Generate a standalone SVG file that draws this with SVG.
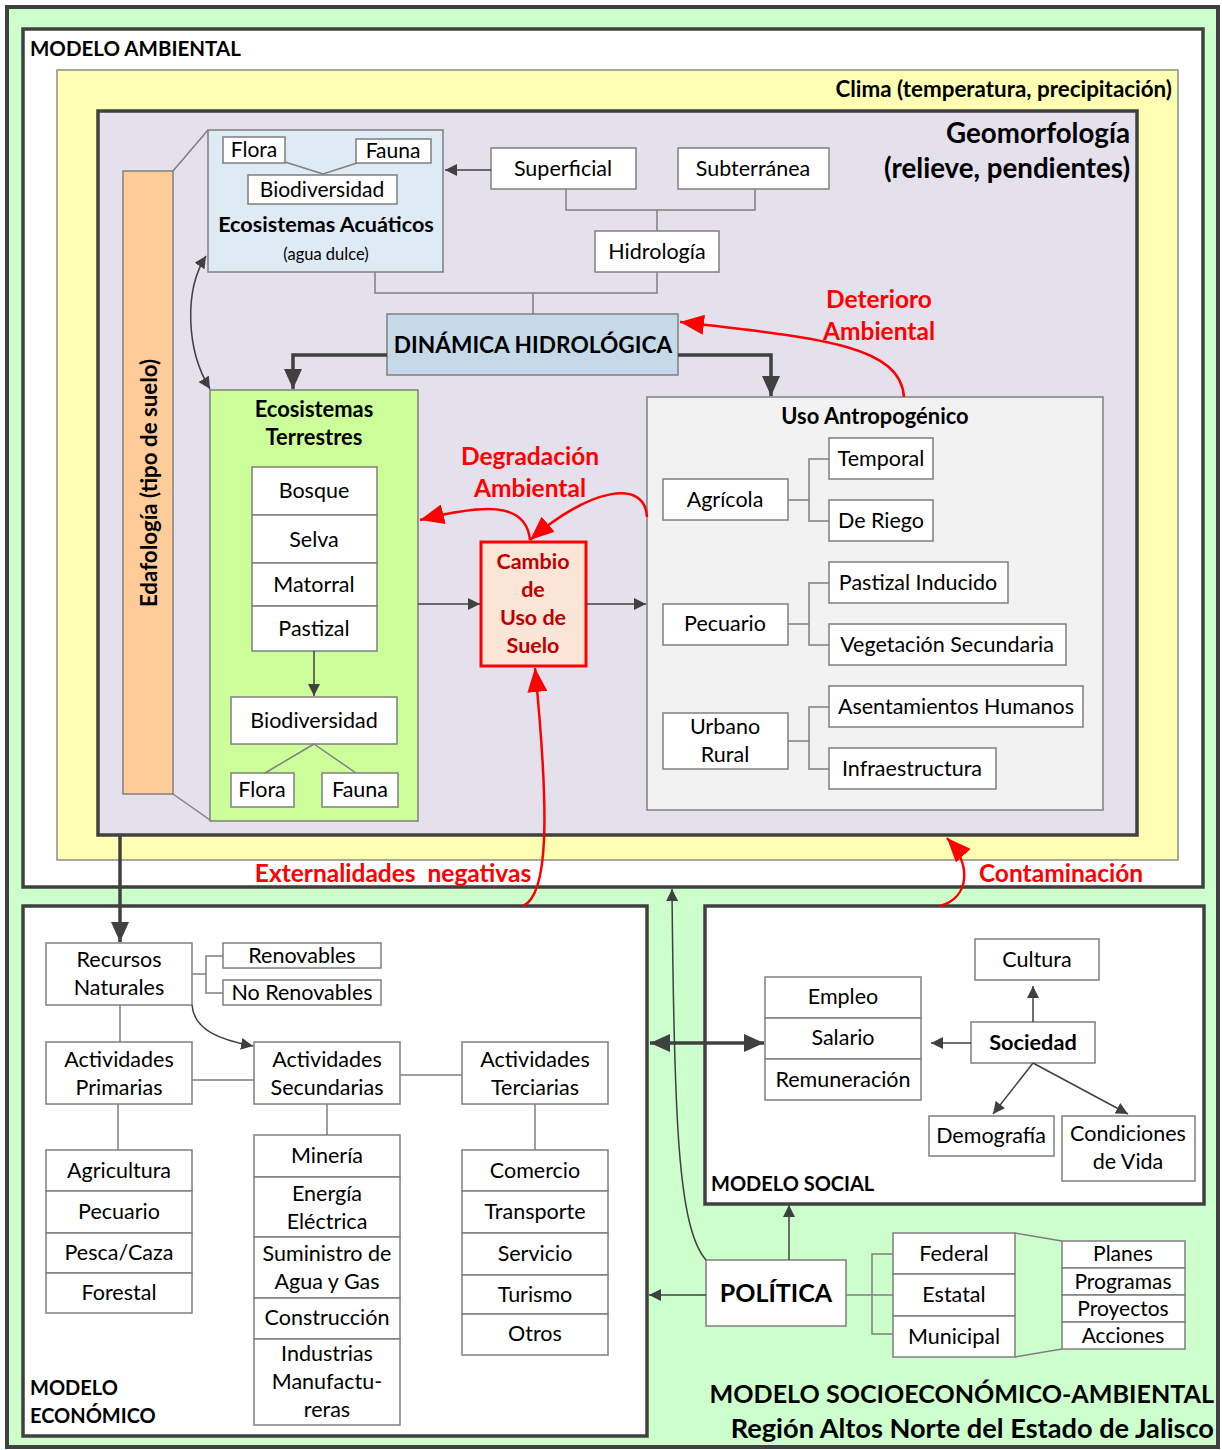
<svg xmlns="http://www.w3.org/2000/svg" width="1222" height="1450" viewBox="0 0 1222 1450" font-size="21.5">
<defs>
<style>
text{font-family:Lato,"Liberation Sans",sans-serif;fill:#000}
.c{text-anchor:middle}
.r{text-anchor:end}
.b{font-weight:bold}
.box{fill:#fff;stroke:#7f7f7f;stroke-width:1.5}
.ln{fill:none;stroke:#7f7f7f;stroke-width:1.5}
.ar{fill:none;stroke:#404040;stroke-width:1.5}
.thk{fill:none;stroke:#404040;stroke-width:3.5}
.red{fill:none;stroke:#ff0000;stroke-width:2.5}
.rt{fill:#ff0000;font-weight:bold;font-size:24.5px;text-anchor:middle}
.frame{fill:#fff;stroke:#404040;stroke-width:3.5}
.dr{fill:#c00000;font-weight:bold;text-anchor:middle}
</style>
<marker id="ah" viewBox="0 0 12 12" refX="12" refY="6" markerWidth="12" markerHeight="12" markerUnits="userSpaceOnUse" orient="auto-start-reverse"><path d="M0,0 L12,6 L0,12 z" fill="#404040"/></marker>
<marker id="ahb" viewBox="0 0 20 18" refX="20" refY="9" markerWidth="20" markerHeight="18" markerUnits="userSpaceOnUse" orient="auto-start-reverse"><path d="M0,0 L20,9 L0,18 z" fill="#404040"/></marker>
<marker id="ahr" viewBox="0 0 24 20" refX="24" refY="10" markerWidth="24" markerHeight="20" markerUnits="userSpaceOnUse" orient="auto"><path d="M0,0 L24,10 L0,20 z" fill="#ff0000"/></marker>
</defs>

<rect x="0" y="0" width="1222" height="1450" fill="#fff"/>
<g id="marco">
<rect x="7" y="7" width="1211" height="1440" fill="#ccffcc" stroke="#404040" stroke-width="4"/>
<text x="1214" y="1403" class="r b" font-size="25.1">MODELO SOCIOECONÓMICO-AMBIENTAL</text>
<text x="1214" y="1438" class="r b" font-size="27.2">Región Altos Norte del Estado de Jalisco</text>
</g>

<g id="modelo-ambiental">
<rect x="23" y="29" width="1180" height="858" class="frame"/>
<text x="30" y="56" class="b" font-size="20.5">MODELO AMBIENTAL</text>
</g>
<g id="clima">
<rect x="57" y="70" width="1121" height="790" fill="#ffffb3" stroke="#8c8c8c" stroke-width="1.5"/>
<text x="1172" y="97" class="r b" font-size="22.4">Clima (temperatura, precipitación)</text>
</g>
<g id="geomorfologia">
<rect x="98" y="111" width="1039" height="724" fill="#e4e0ec" stroke="#404040" stroke-width="3.5"/>
<text x="1130" y="143" class="r b" font-size="27.7">Geomorfología</text>
<text x="1130" y="178" class="r b" font-size="27.7">(relieve, pendientes)</text>
</g>

<g id="edafologia">
<rect x="123" y="171" width="50" height="623" fill="#ffcc99" stroke="#7f7f7f" stroke-width="1.5"/>
<text transform="translate(157,483) rotate(-90)" class="c b" font-size="22.3">Edafología (tipo de suelo)</text>
<path d="M173,171 L208,130 M173,794 L210,820" class="ln"/>
</g>

<g id="ecosistemas-acuaticos">
<rect x="208" y="130" width="235" height="142" fill="#deeaf4" stroke="#7f7f7f" stroke-width="1.5"/>
<polyline points="285,162 323,174 357,163" class="ln"/>
<rect x="223" y="137" width="62" height="26" class="box"/>
<text x="254" y="157" class="c" font-size="21">Flora</text>
<rect x="356" y="139" width="75" height="24" class="box"/>
<text x="393" y="158" class="c" font-size="21">Fauna</text>
<rect x="248" y="175" width="149" height="29" class="box"/>
<text x="322" y="197" class="c" font-size="21">Biodiversidad</text>
<text x="326" y="232" class="c b" font-size="21.6">Ecosistemas Acuáticos</text>
<text x="326" y="260" class="c" font-size="16.5">(agua dulce)</text>
</g>

<g id="superficial"><rect x="491" y="148" width="145" height="41" class="box"/><text x="563" y="176" class="c">Superficial</text></g>
<g id="subterranea"><rect x="678" y="148" width="151" height="41" class="box"/><text x="753" y="176" class="c">Subterránea</text></g>
<g id="hidrologia"><rect x="595" y="231" width="124" height="41" class="box"/><text x="657" y="259" class="c">Hidrología</text></g>
<g id="dinamica-hidrologica"><rect x="387" y="314" width="291" height="61" fill="#c5d9e8" stroke="#7f7f7f" stroke-width="1.5"/><text x="533" y="353" class="c b" font-size="22.7">DINÁMICA HIDROLÓGICA</text></g>

<g id="ecosistemas-terrestres">
<rect x="210" y="390" width="208" height="431" fill="#ccff99" stroke="#7f7f7f" stroke-width="1.5"/>
<text x="314" y="417" class="c b" font-size="21.9">Ecosistemas</text>
<text x="314" y="445" class="c b" font-size="21.9">Terrestres</text>
<rect x="252" y="467" width="125" height="48" class="box"/><text x="314" y="498" class="c">Bosque</text>
<rect x="252" y="515" width="125" height="48" class="box"/><text x="314" y="547" class="c">Selva</text>
<rect x="252" y="563" width="125" height="43" class="box"/><text x="314" y="592" class="c">Matorral</text>
<rect x="252" y="606" width="125" height="45" class="box"/><text x="314" y="636" class="c">Pastizal</text>
<rect x="231" y="697" width="166" height="47" class="box"/><text x="314" y="728" class="c">Biodiversidad</text>
<path d="M314,744 L265,773 M314,744 L356,773" class="ln"/>
<rect x="231" y="773" width="63" height="34" class="box"/><text x="262" y="797" class="c">Flora</text>
<rect x="322" y="773" width="76" height="34" class="box"/><text x="360" y="797" class="c">Fauna</text>
</g>

<g id="cambio-uso-suelo">
<rect x="481" y="542" width="105" height="124" fill="#fbe5d6" stroke="#ff0000" stroke-width="3"/>
<text x="533" y="569" class="dr">Cambio</text>
<text x="533" y="597" class="dr">de</text>
<text x="533" y="625" class="dr">Uso de</text>
<text x="533" y="653" class="dr">Suelo</text>
</g>

<g id="uso-antropogenico">
<rect x="647" y="397" width="456" height="413" fill="#f2f2f2" stroke="#7f7f7f" stroke-width="1.5"/>
<text x="875" y="424" class="c b" font-size="21.9">Uso Antropogénico</text>
<path d="M788,500 H809 M829,459 H809 V521 H829 M788,624 H809 M829,583 H809 V645 H829 M788,741 H809 M829,707 H809 V769 H829" class="ln"/>
<rect x="663" y="479" width="125" height="41" class="box"/><text x="725" y="507" class="c">Agrícola</text>
<rect x="829" y="438" width="104" height="41" class="box"/><text x="881" y="466" class="c">Temporal</text>
<rect x="829" y="500" width="104" height="41" class="box"/><text x="881" y="528" class="c">De Riego</text>
<rect x="663" y="604" width="125" height="41" class="box"/><text x="725" y="631" class="c">Pecuario</text>
<rect x="829" y="562" width="179" height="41" class="box"/><text x="918" y="590" class="c">Pastizal Inducido</text>
<rect x="829" y="624" width="237" height="41" class="box"/><text x="947" y="652" class="c">Vegetación Secundaria</text>
<rect x="663" y="713" width="125" height="56" class="box"/><text x="725" y="734" class="c">Urbano</text><text x="725" y="762" class="c">Rural</text>
<rect x="829" y="686" width="254" height="41" class="box"/><text x="956" y="714" class="c">Asentamientos Humanos</text>
<rect x="829" y="748" width="167" height="41" class="box"/><text x="912" y="776" class="c">Infraestructura</text>
</g>

<g id="modelo-economico">
<rect x="23" y="906" width="624" height="530" class="frame"/>
<text x="30" y="1395" class="b" font-size="20">MODELO</text>
<text x="30" y="1423" class="b" font-size="20">ECONÓMICO</text>
<rect x="46" y="943" width="146" height="62" class="box"/><text x="119" y="967" class="c">Recursos</text><text x="119" y="995" class="c">Naturales</text>
<rect x="223" y="943" width="158" height="25" class="box"/><text x="302" y="963" class="c">Renovables</text>
<rect x="223" y="980" width="158" height="25" class="box"/><text x="302" y="1000" class="c">No Renovables</text>
<rect x="46" y="1042" width="146" height="62" class="box"/><text x="119" y="1067" class="c">Actividades</text><text x="119" y="1095" class="c">Primarias</text>
<rect x="254" y="1042" width="146" height="62" class="box"/><text x="327" y="1067" class="c">Actividades</text><text x="327" y="1095" class="c">Secundarias</text>
<rect x="462" y="1042" width="146" height="62" class="box"/><text x="535" y="1067" class="c">Actividades</text><text x="535" y="1095" class="c">Terciarias</text>
<rect x="46" y="1150" width="146" height="41" class="box"/><text x="119" y="1178" class="c">Agricultura</text>
<rect x="46" y="1191" width="146" height="42" class="box"/><text x="119" y="1219" class="c">Pecuario</text>
<rect x="46" y="1233" width="146" height="40" class="box"/><text x="119" y="1260" class="c">Pesca/Caza</text>
<rect x="46" y="1273" width="146" height="40" class="box"/><text x="119" y="1300" class="c">Forestal</text>
<rect x="254" y="1135" width="146" height="42" class="box"/><text x="327" y="1163" class="c">Minería</text>
<rect x="254" y="1177" width="146" height="60" class="box"/><text x="327" y="1201" class="c">Energía</text><text x="327" y="1229" class="c">Eléctrica</text>
<rect x="254" y="1237" width="146" height="61" class="box"/><text x="327" y="1261" class="c">Suministro de</text><text x="327" y="1289" class="c">Agua y Gas</text>
<rect x="254" y="1298" width="146" height="41" class="box"/><text x="327" y="1325" class="c">Construcción</text>
<rect x="254" y="1339" width="146" height="86" class="box"/><text x="327" y="1361" class="c">Industrias</text><text x="327" y="1389" class="c">Manufactu-</text><text x="327" y="1417" class="c">reras</text>
<rect x="462" y="1150" width="146" height="41" class="box"/><text x="535" y="1178" class="c">Comercio</text>
<rect x="462" y="1191" width="146" height="42" class="box"/><text x="535" y="1219" class="c">Transporte</text>
<rect x="462" y="1233" width="146" height="42" class="box"/><text x="535" y="1261" class="c">Servicio</text>
<rect x="462" y="1275" width="146" height="39" class="box"/><text x="535" y="1302" class="c">Turismo</text>
<rect x="462" y="1314" width="146" height="41" class="box"/><text x="535" y="1341" class="c">Otros</text>
</g>

<g id="modelo-social">
<rect x="705" y="906" width="499" height="298" class="frame"/>
<text x="711" y="1191" class="b" font-size="20">MODELO SOCIAL</text>
<rect x="765" y="977" width="156" height="41" class="box"/><text x="843" y="1004" class="c">Empleo</text>
<rect x="765" y="1018" width="156" height="41" class="box"/><text x="843" y="1045" class="c">Salario</text>
<rect x="765" y="1059" width="156" height="41" class="box"/><text x="843" y="1087" class="c">Remuneración</text>
<rect x="971" y="1022" width="124" height="41" class="box"/><text x="1033" y="1050" class="c b" font-size="21.7">Sociedad</text>
<rect x="975" y="939" width="124" height="41" class="box"/><text x="1037" y="967" class="c">Cultura</text>
<rect x="929" y="1116" width="125" height="40" class="box"/><text x="991" y="1143" class="c">Demografía</text>
<rect x="1062" y="1116" width="133" height="65" class="box"/><text x="1128" y="1141" class="c">Condiciones</text><text x="1128" y="1169" class="c">de Vida</text>
</g>

<g id="politica">
<rect x="706" y="1260" width="140" height="66" class="box"/><text x="776" y="1302" class="c b" font-size="25">POLÍTICA</text>
<rect x="893" y="1233" width="122" height="41" class="box"/><text x="954" y="1261" class="c">Federal</text>
<rect x="893" y="1274" width="122" height="42" class="box"/><text x="954" y="1302" class="c">Estatal</text>
<rect x="893" y="1316" width="122" height="41" class="box"/><text x="954" y="1344" class="c">Municipal</text>
<rect x="1062" y="1241" width="123" height="27" class="box"/><text x="1123" y="1261" class="c" font-size="21">Planes</text>
<rect x="1062" y="1268" width="123" height="27" class="box"/><text x="1123" y="1289" class="c" font-size="21">Programas</text>
<rect x="1062" y="1295" width="123" height="27" class="box"/><text x="1123" y="1316" class="c" font-size="21">Proyectos</text>
<rect x="1062" y="1322" width="123" height="27" class="box"/><text x="1123" y="1343" class="c" font-size="21">Acciones</text>
</g>

<g id="conectores">
<path d="M566,189 V210 H755 V189 M657,210 V231 M657,272 V293 H375 V272 M533,293 V314" class="ln"/>
<path d="M491,170 H445" class="ar" marker-end="url(#ah)"/>
<path d="M387,355 H293 V389" class="thk" marker-end="url(#ahb)"/>
<path d="M678,355 H771 V396" class="thk" marker-end="url(#ahb)"/>
<path d="M206,256 C184,290 186,350 210,389" class="ar" marker-start="url(#ah)" marker-end="url(#ah)"/>
<path d="M314,651 V696" class="ar" marker-end="url(#ah)"/>
<path d="M418,604 H480" class="ar" marker-end="url(#ah)"/>
<path d="M586,604 H646" class="ar" marker-end="url(#ah)"/>
<path d="M120,836 V942" class="thk" marker-end="url(#ahb)"/>
<path d="M192,974 H206 M223,956 H206 V993 H223 M120,1005 V1042 M192,1080 H254 M400,1075 H462 M118,1104 V1150 M327,1104 V1135 M535,1104 V1150" class="ln"/>
<path d="M192,1005 C194,1030 220,1040 253,1046" class="ar" marker-end="url(#ah)"/>
<path d="M650,1043 H764" class="thk" marker-start="url(#ahb)" marker-end="url(#ahb)"/>
<path d="M971,1043 H931" class="ar" marker-end="url(#ah)"/>
<path d="M1033,1022 V986" class="ar" marker-end="url(#ah)"/>
<path d="M1033,1063 L993,1114" class="ar" marker-end="url(#ah)"/>
<path d="M1033,1063 L1128,1114" class="ar" marker-end="url(#ah)"/>
<path d="M789,1260 V1205" class="ar" marker-end="url(#ah)"/>
<path d="M706,1295 H649" class="ar" marker-end="url(#ah)"/>
<path d="M706,1260 C678,1228 674,1120 672,889" class="ar" stroke-width="1.2" marker-end="url(#ah)"/>
<path d="M846,1295 H893 M893,1254 H872 V1334 H893 M1015,1233 L1062,1241 M1015,1357 L1062,1349" class="ln"/>
<path d="M904,397 C900,345 820,338 680,322" class="red" marker-end="url(#ahr)"/>
<path d="M530,540 C526,500 480,505 420,520" class="red" marker-end="url(#ahr)"/>
<path d="M647,517 C645,478 590,488 530,540" class="red" marker-end="url(#ahr)"/>
<path d="M523,906 C548,895 550,820 535,668" class="red" marker-end="url(#ahr)"/>
<path d="M940,906 C970,897 972,865 947,838" class="red" marker-end="url(#ahr)"/>
</g>

<g id="etiquetas">
<text x="879" y="308" class="rt">Deterioro</text>
<text x="879" y="340" class="rt">Ambiental</text>
<text x="530" y="465" class="rt">Degradación</text>
<text x="530" y="497" class="rt">Ambiental</text>
<text x="393" y="882" class="rt" style="white-space:pre">Externalidades  negativas</text>
<text x="1061" y="882" class="rt">Contaminación</text>
</g>
</svg>
